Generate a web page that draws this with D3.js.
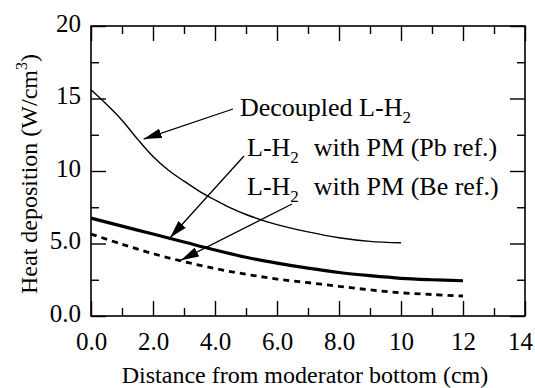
<!DOCTYPE html>
<html>
<head>
<meta charset="utf-8">
<script src="https://cdn.jsdelivr.net/npm/d3@7"></script>
<style>
  html, body { margin: 0; padding: 0; background: #fff; }
</style>
</head>
<body>
<svg id="chart" width="535" height="388"></svg>
<script>
// Heat deposition along the moderator, three configurations
const xDecoupled = [0, 0.5, 1, 1.5, 2, 2.5, 3, 3.5, 4, 4.5, 5, 6, 7, 8, 9, 10];
const yDecoupled = [15.6, 14.6, 13.5, 12.2, 11.0, 10.05, 9.3, 8.6, 8.0, 7.45, 7.0, 6.3, 5.8, 5.4, 5.15, 5.05];

const xPM = [0, 1, 2, 3, 4, 5, 6, 7, 8, 9, 10, 11, 12];
const yPbRef = [6.75, 6.2, 5.65, 5.1, 4.55, 4.05, 3.65, 3.3, 3.0, 2.78, 2.6, 2.5, 2.43];
const yBeRef = [5.65, 4.95, 4.3, 3.75, 3.27, 2.88, 2.55, 2.3, 2.05, 1.8, 1.6, 1.48, 1.38];

const xMajorTicks = [0, 2, 4, 6, 8, 10, 12, 14];
const xMajorLabels = ["0.0", "2.0", "4.0", "6.0", "8.0", "10", "12", "14"];
const xMinorTicks = [1, 3, 5, 7, 9, 11, 13];
const yMajorTicks = [0, 5, 10, 15, 20];
const yMajorLabels = ["0.0", "5.0", "10", "15", "20"];
const yMinorTicks = [2.5, 7.5, 12.5, 17.5];

const FONT = "'Liberation Serif', 'Times New Roman', Tinos, 'DejaVu Serif', serif";

const svg = d3.select("#chart");
const plot = { left: 91, right: 525, top: 26, bottom: 316 };

const x = d3.scaleLinear().domain([0, 14]).range([plot.left, plot.right]);
const y = d3.scaleLinear().domain([0, 20]).range([plot.bottom, plot.top]);

const MAJOR = 15, MINOR = 8;

function styleAxis(g) {
  g.attr("font-family", null).attr("font-size", null);
  g.select(".domain").remove();
  g.selectAll(".tick line").attr("stroke", "#000").attr("stroke-width", 1.4);
  g.selectAll(".tick text")
    .style("font-family", FONT).style("font-size", "25px").attr("fill", "#000");
}

// bottom axis (labelled) and top mirror
svg.append("g").attr("transform", `translate(0,${plot.bottom})`)
  .call(d3.axisBottom(x).tickValues(xMajorTicks).tickSize(-MAJOR).tickPadding(16)
    .tickFormat((d, i) => xMajorLabels[i]))
  .call(styleAxis)
  .call(g => g.selectAll(".tick text").attr("dy", "0.71em"))
  // the last label sits against the right edge of the figure
  .call(g => g.selectAll(".tick text").filter(d => d === 14).attr("dx", -5));
svg.append("g").attr("transform", `translate(0,${plot.bottom})`)
  .call(d3.axisBottom(x).tickValues(xMinorTicks).tickSize(-MINOR).tickFormat(""))
  .call(styleAxis);
svg.append("g").attr("transform", `translate(0,${plot.top})`)
  .call(d3.axisTop(x).tickValues(xMajorTicks).tickSize(-MAJOR).tickFormat(""))
  .call(styleAxis);
svg.append("g").attr("transform", `translate(0,${plot.top})`)
  .call(d3.axisTop(x).tickValues(xMinorTicks).tickSize(-MINOR).tickFormat(""))
  .call(styleAxis);

// left axis (labelled) and right mirror
svg.append("g").attr("transform", `translate(${plot.left},0)`)
  .call(d3.axisLeft(y).tickValues(yMajorTicks).tickSize(-MAJOR).tickPadding(10)
    .tickFormat((d, i) => yMajorLabels[i]))
  .call(styleAxis)
  .call(g => g.selectAll(".tick text").attr("dy", "0.2em"));
svg.append("g").attr("transform", `translate(${plot.left},0)`)
  .call(d3.axisLeft(y).tickValues(yMinorTicks).tickSize(-MINOR).tickFormat(""))
  .call(styleAxis);
svg.append("g").attr("transform", `translate(${plot.right},0)`)
  .call(d3.axisRight(y).tickValues(yMajorTicks).tickSize(-MAJOR).tickFormat(""))
  .call(styleAxis);
svg.append("g").attr("transform", `translate(${plot.right},0)`)
  .call(d3.axisRight(y).tickValues(yMinorTicks).tickSize(-MINOR).tickFormat(""))
  .call(styleAxis);

// frame
svg.append("rect")
  .attr("x", plot.left).attr("y", plot.top)
  .attr("width", plot.right - plot.left).attr("height", plot.bottom - plot.top)
  .attr("fill", "none").attr("stroke", "#000").attr("stroke-width", 1.6);

// curves
const line = d3.line().x(d => x(d[0])).y(d => y(d[1])).curve(d3.curveCatmullRom.alpha(0.5));

svg.append("path")
  .datum(d3.zip(xDecoupled, yDecoupled))
  .attr("d", line).attr("fill", "none").attr("stroke", "#000").attr("stroke-width", 1.4);

svg.append("path")
  .datum(d3.zip(xPM, yPbRef))
  .attr("d", line).attr("fill", "none").attr("stroke", "#000").attr("stroke-width", 3.2);

svg.append("path")
  .datum(d3.zip(xPM, yBeRef))
  .attr("d", line).attr("fill", "none").attr("stroke", "#000").attr("stroke-width", 2.8)
  .attr("stroke-dasharray", "6,5");

// arrowhead marker
svg.append("defs").append("marker")
  .attr("id", "head")
  .attr("markerUnits", "userSpaceOnUse")
  .attr("viewBox", "0 0 18 10")
  .attr("refX", 18).attr("refY", 5)
  .attr("markerWidth", 18).attr("markerHeight", 10)
  .attr("orient", "auto")
  .append("path").attr("d", "M0,0 L18,5 L0,10 Z").attr("fill", "#000");

// annotation arrows: [tail point, data point the arrow lands on]
const arrows = [
  { from: [233, 109], at: [1.7, 12.2] },
  { from: [244, 156], at: [2.55, 5.4] },
  { from: [292, 204], at: [2.9, 3.85] }
];
arrows.forEach(a => {
  svg.append("line")
    .attr("x1", a.from[0]).attr("y1", a.from[1])
    .attr("x2", x(a.at[0])).attr("y2", y(a.at[1]))
    .attr("stroke", "#000").attr("stroke-width", 1.3)
    .attr("marker-end", "url(#head)");
});

// annotation labels with subscript 2
function labelH2(xp, yp, before, after, gap) {
  const t = svg.append("text").attr("x", xp).attr("y", yp)
    .style("font-family", FONT).style("font-size", "26px").attr("fill", "#000");
  t.append("tspan").text(before + "L-H");
  t.append("tspan").attr("dy", 7).style("font-size", "17px").text("2");
  if (after) t.append("tspan").attr("dy", -7).attr("dx", gap).text(after);
}
labelH2(240, 116, "Decoupled ", "", 0);
labelH2(247, 156, "", "with PM (Pb ref.)", 15);
labelH2(247, 195, "", "with PM (Be ref.)", 15);

// axis titles
svg.append("text")
  .attr("x", (plot.left + plot.right) / 2 - 3).attr("y", 383)
  .attr("text-anchor", "middle")
  .style("font-family", FONT).style("font-size", "24px").attr("fill", "#000")
  .text("Distance from moderator bottom (cm)");

const yTitle = svg.append("text")
  .attr("transform", "translate(37,174) rotate(-90)")
  .attr("text-anchor", "middle")
  .style("font-family", FONT).style("font-size", "24px").attr("fill", "#000");
yTitle.append("tspan").text("Heat deposition (W/cm");
yTitle.append("tspan").attr("dy", -10).style("font-size", "16px").text("3");
yTitle.append("tspan").attr("dy", 10).text(")");
</script>
</body>
</html>
